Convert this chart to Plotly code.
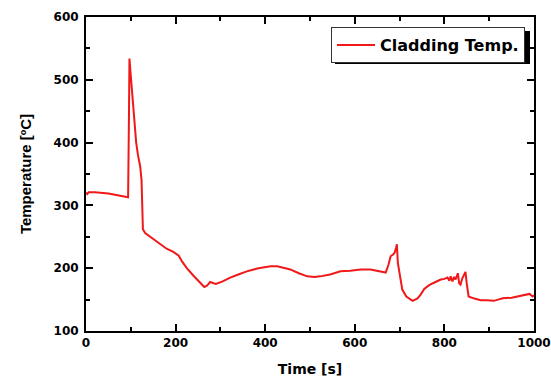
import plotly.graph_objects as go

time_s = [0, 3, 6, 20, 50, 75, 91, 94, 96, 97, 99, 104, 108, 112, 116, 121, 124, 127, 132, 140,
          158, 170, 180, 195, 207, 215, 225, 240, 255, 264, 270, 277, 285, 290, 305, 322, 340,
          359, 385, 412, 427, 445, 456, 475, 494, 510, 523, 545, 568, 590, 613, 635, 658, 669,
          675, 680, 686, 689, 692, 694, 696, 700, 706, 715, 729, 740, 747, 755, 766, 780, 792,
          800, 807, 811, 814, 818, 822, 825, 830, 833, 836, 840, 842, 847, 850, 854, 865, 881,
          895, 910, 920, 930, 950, 970, 982, 990, 997, 1000]
temp_c = [320, 318, 321, 321, 319, 316, 313, 313, 450, 534, 515, 470, 430, 400, 380, 362, 340, 262, 256, 252,
          243, 236, 231, 226, 220, 210, 200, 188, 176, 170, 172, 178, 176, 175, 179, 185, 190,
          195, 200, 203, 203, 200, 198, 192, 187, 186, 187, 190, 195, 196, 198, 198, 195, 193,
          205, 219, 222, 225, 232, 238, 209, 190, 166, 155, 148, 152, 158, 167, 173, 178, 182,
          183, 185, 180, 187, 179, 186, 182, 192, 176, 174, 184, 187, 194, 175, 155, 152, 149,
          149, 148, 150, 152, 153, 156, 157, 159, 155, 157]

x_ticks = [0, 200, 400, 600, 800, 1000]
y_ticks = [100, 200, 300, 400, 500, 600]
series_name = "Cladding Temp."

W, H = 551, 378
PL, PR, PT, PB = 86, 534, 17, 331.5   # plot area in view pixels
ML, MR, MT, MB = PL, (W - PR), PT, H - PB

fig = go.Figure()
fig.add_trace(go.Scatter(x=time_s, y=temp_c, mode="lines", name=series_name,
                         line=dict(color="#f01818", width=2)))

tickfont = dict(family="DejaVu Sans", size=12, color="black", weight="bold")
axis_common = dict(showline=True, linecolor="black", linewidth=2, mirror="ticks",
                   ticks="inside", ticklen=7, tickwidth=2, tickcolor="black",
                   showgrid=False, zeroline=False, tickfont=tickfont, automargin=False,
                   minor=dict(ticks="inside", ticklen=4, tickwidth=2, tickcolor="black"))

fig.update_xaxes(range=[0, 1000], tickvals=x_ticks, ticktext=[str(v) for v in x_ticks],
                 minor_dtick=100,
                 title=dict(text="Time [s]", font=dict(family="DejaVu Sans", size=14, weight="bold", color="black"),
                            standoff=15),
                 **axis_common)
fig.update_yaxes(range=[100, 600], tickvals=y_ticks, ticktext=[str(v) for v in y_ticks],
                 minor_dtick=50, ticklabelstandoff=3,
                 title=dict(text="Temperature [ºC]", font=dict(family="Liberation Sans", size=15, weight="bold", color="black"),
                            standoff=18),
                 **axis_common)

def px_x(p):
    return (p - PL) / (PR - PL)

def px_y(p):
    return 1 - (p - PT) / (PB - PT)

# legend shadow
fig.add_shape(type="rect", xref="paper", yref="paper",
              x0=px_x(335), x1=px_x(530), y0=px_y(64), y1=px_y(31),
              fillcolor="black", line=dict(width=0), layer="above")

fig.update_layout(
    width=W, height=H,
    margin=dict(l=ML, r=MR, t=MT, b=MB, autoexpand=False),
    paper_bgcolor="white", plot_bgcolor="white",
    showlegend=True,
    legend=dict(x=px_x(331), y=px_y(27), xanchor="left", yanchor="top",
                bgcolor="white", bordercolor="#333333", borderwidth=1,
                font=dict(family="DejaVu Sans", size=16, weight="bold", color="black"),
                tracegroupgap=0, itemwidth=38),
)

fig.write_html("out.html", config={"displayModeBar": False},
               post_script="document.body.style.margin='0';document.body.style.overflow='hidden';")
